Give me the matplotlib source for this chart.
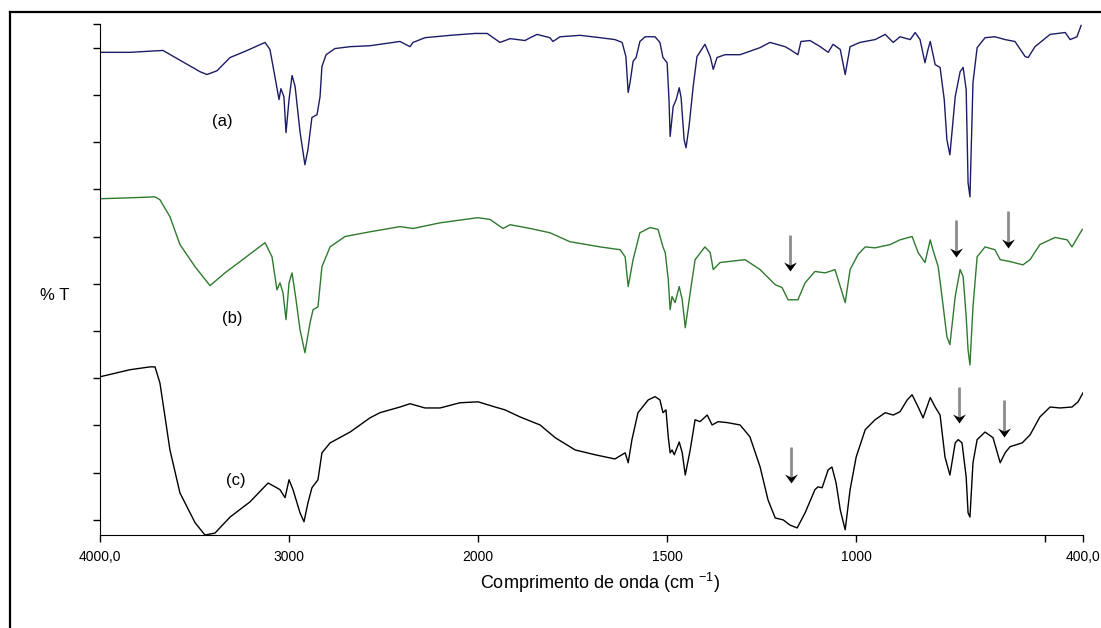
import numpy as np
import matplotlib
matplotlib.use("Agg")
import matplotlib.pyplot as plt
from matplotlib.lines import Line2D
from matplotlib.path import Path

plt.rcParams['font.family'] = ['Liberation Sans', 'DejaVu Sans']
plt.rcParams['mathtext.fontset'] = 'custom'
plt.rcParams['mathtext.rm'] = 'Liberation Sans'

# spectrum (a) - wavenumber (cm-1) and %T (offset scale)
wn_a = [4000, 3841, 3667, 3471, 3434, 3381, 3312, 3233, 3127, 3101, 3074, 3053, 3043, 3027, 3016,
        3000, 2984, 2968, 2942, 2916, 2900, 2879, 2852, 2836, 2826, 2804, 2757, 2677, 2572, 2413,
        2360, 2344, 2281, 2148, 2016, 1976, 1942, 1915, 1876, 1862, 1844, 1810, 1802, 1783, 1730,
        1677, 1638, 1619, 1609, 1603, 1598, 1590, 1582, 1572, 1558, 1532, 1519, 1511, 1500, 1495,
        1492, 1484, 1476, 1468, 1463, 1455, 1450, 1442, 1431, 1421, 1400, 1386, 1378, 1368, 1347,
        1307, 1254, 1228, 1188, 1175, 1154, 1146, 1122, 1095, 1074, 1061, 1042, 1029, 1016, 990,
        950, 923, 902, 884, 857, 844, 831, 818, 810, 804, 791, 778, 767, 760, 752,
        738, 725, 717, 709, 704, 699, 691, 680, 659, 633, 606, 580, 553, 545, 527,
        487, 447, 434, 416, 405]
t_a = [99.0, 99.0, 99.4, 94.9, 94.3, 95.1, 97.9, 99.2, 101.1, 99.6, 93.7, 89.0, 91.3, 89.6, 82.0,
       89.0, 94.1, 91.8, 82.2, 75.2, 78.4, 85.2, 85.8, 89.6, 96.0, 98.5, 99.8, 100.2, 100.4, 101.3,
       100.2, 101.1, 102.1, 102.6, 103.0, 103.0, 101.1, 101.9, 101.5, 102.1, 102.8, 102.1, 101.3, 102.3, 102.6,
       102.1, 101.7, 101.1, 98.1, 90.5, 92.6, 97.1, 97.9, 101.3, 102.3, 102.3, 101.1, 97.9, 96.8, 89.0,
       81.2, 87.5, 89.0, 91.5, 89.4, 80.5, 78.8, 83.3, 91.8, 98.1, 100.7, 98.1, 95.4, 97.9, 98.5,
       98.5, 100.0, 101.1, 100.2, 99.6, 98.5, 101.3, 101.5, 100.2, 99.0, 100.7, 99.6, 94.3, 100.2, 101.1,
       101.7, 102.8, 101.1, 102.3, 101.7, 103.2, 101.7, 96.8, 99.6, 101.3, 96.4, 95.8, 89.0, 80.5, 77.3,
       89.6, 94.9, 95.8, 91.1, 71.4, 68.4, 92.6, 100.0, 102.1, 102.3, 101.7, 101.3, 98.1, 97.9, 100.2,
       102.8, 103.2, 101.7, 102.3, 104.7]

# spectrum (b)
wn_b = [4000, 3841, 3709, 3683, 3630, 3577, 3497, 3418, 3339, 3259, 3127, 3101, 3090, 3064, 3048,
        3032, 3016, 3000, 2984, 2963, 2942, 2916, 2889, 2873, 2847, 2826, 2783, 2704, 2572, 2413,
        2344, 2201, 2000, 1968, 1934, 1915, 1862, 1810, 1757, 1677, 1624, 1611, 1603, 1590, 1572,
        1545, 1524, 1511, 1505, 1497, 1492, 1487, 1479, 1468, 1460, 1452, 1439, 1426, 1400, 1386,
        1378, 1360, 1294, 1254, 1214, 1196, 1180, 1154, 1135, 1109, 1082, 1056, 1042, 1029, 1016,
        995, 976, 950, 910, 884, 852, 836, 818, 804, 797, 783, 773, 760, 752, 738,
        725, 717, 709, 704, 699, 691, 680, 659, 633, 619, 593, 559, 540, 514, 474,
        442, 429, 413, 402]
t_b = [68.0, 68.2, 68.4, 67.8, 64.2, 58.3, 53.6, 49.6, 52.3, 54.7, 58.7, 56.6, 55.7, 48.7, 50.2,
       48.1, 42.4, 50.2, 52.3, 46.6, 40.3, 35.4, 41.7, 44.5, 45.1, 53.6, 57.8, 60.0, 61.0, 62.1,
       61.7, 62.9, 64.0, 63.6, 61.7, 62.5, 61.7, 60.8, 58.9, 57.8, 57.2, 55.7, 49.4, 55.1, 60.8,
       61.9, 61.5, 57.8, 56.6, 50.9, 44.5, 47.3, 46.0, 49.4, 46.6, 40.7, 48.1, 55.1, 57.8, 56.6,
       53.0, 54.5, 55.1, 53.0, 49.8, 49.2, 46.6, 46.6, 50.2, 52.6, 52.3, 53.0, 49.4, 46.0, 53.0,
       56.2, 57.8, 57.6, 58.3, 59.3, 60.0, 56.6, 54.5, 59.3, 57.2, 53.6, 47.3, 38.8, 37.1, 47.3,
       53.0, 51.5, 43.0, 36.0, 32.8, 45.1, 55.7, 57.8, 57.2, 55.1, 54.7, 54.0, 55.1, 58.3, 59.8,
       59.3, 57.8, 60.0, 61.5]

# spectrum (c)
wn_c = [4000, 3841, 3735, 3709, 3683, 3656, 3630, 3577, 3497, 3445, 3392, 3312, 3207, 3111, 3074,
        3048, 3021, 3000, 2979, 2942, 2921, 2900, 2879, 2847, 2826, 2783, 2677, 2572, 2519, 2413,
        2360, 2281, 2201, 2096, 2000, 1955, 1929, 1889, 1836, 1796, 1743, 1691, 1638, 1611, 1603,
        1593, 1577, 1550, 1532, 1519, 1511, 1503, 1497, 1492, 1487, 1481, 1468, 1460, 1452, 1439,
        1426, 1413, 1394, 1381, 1365, 1341, 1307, 1281, 1254, 1233, 1214, 1193, 1175, 1156, 1135,
        1109, 1101, 1090, 1074, 1064, 1053, 1042, 1029, 1016, 1000, 976, 950, 923, 902, 884,
        865, 852, 836, 823, 804, 791, 778, 765, 752, 738, 730, 720, 709, 704, 699,
        691, 680, 659, 638, 619, 606, 593, 561, 540, 514, 487, 461, 429, 413, 400]
t_c = [30.3, 31.8, 32.4, 32.4, 29.0, 21.8, 14.8, 5.7, -0.6, -3.2, -2.8, 0.6, 3.8, 7.8, 7.0,
       6.4, 4.7, 8.5, 6.4, 1.5, -0.4, 3.6, 6.8, 8.5, 14.2, 16.3, 18.6, 21.6, 22.7, 23.9,
       24.6, 23.7, 23.7, 24.8, 25.0, 23.9, 23.3, 21.8, 20.1, 17.4, 14.8, 13.8, 12.9, 14.2, 12.1,
       17.0, 22.7, 25.4, 26.1, 25.4, 22.7, 23.3, 17.6, 14.2, 14.8, 13.8, 16.5, 14.2, 9.5, 14.8,
       21.2, 20.8, 22.2, 20.1, 20.8, 20.6, 20.1, 17.6, 11.2, 4.2, 0.4, 0.0, -1.1, -1.7, 1.5,
       6.4, 7.0, 6.8, 10.6, 11.2, 7.8, 2.1, -2.1, 6.4, 13.3, 19.1, 21.2, 22.7, 22.2, 22.9,
       25.4, 26.5, 23.9, 21.6, 25.9, 23.9, 22.2, 13.3, 9.5, 16.3, 17.0, 16.3, 9.1, 1.5, 0.6,
       12.1, 17.0, 18.6, 17.4, 12.1, 14.2, 15.5, 16.3, 18.0, 21.8, 23.9, 23.7, 23.9, 25.0, 26.9]

# arrows: (wavenumber, start, tip)
arrows_b = [(1175, 60.4, 52.6), (736, 63.6, 55.7), (598, 65.5, 57.6)]
arrows_c = [(1172, 15.5, 7.8), (728, 28.2, 20.6), (609, 25.4, 17.6)]

tick_pos = [4000, 3000, 2000, 1500, 1000, 500, 400]
tick_lab = ['4000,0', '3000', '2000', '1500', '1000', '', '400,0']


def fwd(w):
    w = np.asarray(w, dtype=float)
    return np.where(w > 2000, 2000 + (w - 2000) / 2, w)


def inv(u):
    u = np.asarray(u, dtype=float)
    return np.where(u > 2000, 2000 + (u - 2000) * 2, u)


# concave arrow head, tip at the origin
head = Path([(0, 0), (-1, 1.4), (0, 0.9), (1, 1.4), (0, 0)],
            [Path.MOVETO, Path.LINETO, Path.LINETO, Path.LINETO, Path.CLOSEPOLY])

fig = plt.figure(figsize=(11.01, 6.28), dpi=100)
ax = fig.add_axes([100 / 1101, 93 / 628, 983 / 1101, 511 / 628])
ax.set_xscale('function', functions=(fwd, inv))

ax.plot(wn_a, t_a, color='#1c1c66', lw=1)
ax.plot(wn_b, t_b, color='#2f7a2f', lw=1)
ax.plot(wn_c, t_c, color='black', lw=1)

for w, y0, y1 in arrows_b + arrows_c:
    ax.plot([w, w], [y0, y1 + 1.0], color='#8c8c8c', lw=2, solid_capstyle='butt')
    ax.plot([w], [y1], marker=head, markersize=13, color='black', mew=0)

ax.text(3355, 84.3, '(a)', fontsize=12, ha='center', va='center')
ax.text(3302, 42.6, '(b)', fontsize=12, ha='center', va='center')
ax.text(3281, 8.3, '(c)', fontsize=12, ha='center', va='center')

ax.set_xlim(4000, 400)
ax.set_ylim(-3.2, 105)
ax.set_xticks(tick_pos)
ax.set_xticklabels(tick_lab, family=['Liberation Sans Narrow', 'Liberation Sans'], fontsize=10)
ax.xaxis.set_minor_locator(matplotlib.ticker.NullLocator())
ax.set_yticks(list(range(0, 101, 10)) + [105])
ax.set_yticklabels([])
ax.tick_params(direction='out', length=5, width=1, pad=6)
ax.spines['top'].set_visible(False)
ax.spines['right'].set_visible(False)

fig.text(600 / 1101, 1 - 583 / 628, 'Comprimento de onda (cm $^{-1}$)', fontsize=13,
         ha='center', va='center')
fig.text(55 / 1101, 1 - 296 / 628, '% T', fontsize=12, ha='center', va='center')

# outer frame (cut at right and bottom)
fig.add_artist(Line2D([10 / 1101, 1], [1 - 12 / 628, 1 - 12 / 628], color='black', lw=1.6))
fig.add_artist(Line2D([10 / 1101, 10 / 1101], [0, 1 - 12 / 628], color='black', lw=1.6))

fig.savefig('out.png', dpi=100)
